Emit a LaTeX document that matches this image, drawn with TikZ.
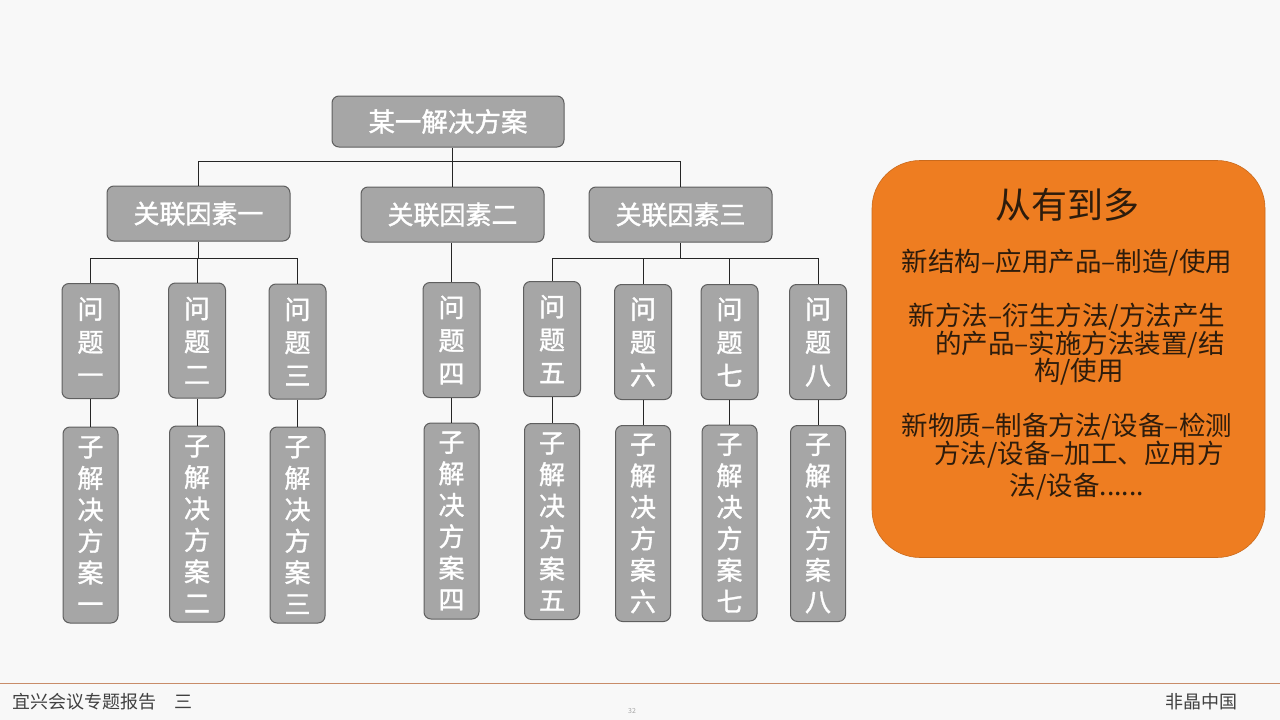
\documentclass[tikz,border=0pt]{standalone}
\usepackage{fontspec}
\setmainfont{Noto Sans CJK SC}
\newfontfamily\boxfont{Noto Sans CJK SC}[FakeBold=1.3]
\usepackage{tikz}
\usetikzlibrary{positioning}
\definecolor{Boxgray}{RGB}{166,166,166}
\definecolor{Edgegray}{RGB}{95,95,95}
\definecolor{Orangebox}{RGB}{238,125,33}
\definecolor{Inktext}{RGB}{45,28,12}
\definecolor{Footline}{RGB}{200,140,105}
\definecolor{Pageback}{RGB}{248,248,248}

\begin{document}
\begin{tikzpicture}[x=1pt,y=-1pt,
  gbox/.style={draw=Edgegray,fill=Boxgray,line width=1pt,rounded corners=7pt,text=white,inner sep=0pt},
  factor/.style={gbox,minimum width=183pt,minimum height=55pt,font=\boxfont\fontsize{26}{30}\selectfont},
  question/.style={gbox,minimum width=57pt,minimum height=115pt,align=center,font=\boxfont\fontsize{26}{33}\selectfont},
  subsol/.style={gbox,minimum width=55pt,minimum height=196pt,align=center,font=\boxfont\fontsize{26}{31.5}\selectfont},
  link/.style={draw=black!85,line width=0.8pt},
  ink/.style={text=Inktext,inner sep=0pt,font=\fontsize{26.5}{30}\selectfont},
  foot/.style={text=black!75,inner sep=0pt,font=\fontsize{18}{20}\selectfont}]
\useasboundingbox (0,0) rectangle (1280,720);
\fill[Pageback] (0,0) rectangle (1280,720);
%
% tree
\node[gbox,minimum width=232pt,minimum height=51pt,font=\boxfont\fontsize{26.5}{30}\selectfont] (root) at (448,121.5) {某一解决方案};
\node[factor] (f1) at (198.5,213.5) {关联因素一};
\node[factor] (f2) at (452.5,214.5) {关联因素二};
\node[factor] (f3) at (680.5,214.5) {关联因素三};
\coordinate (topbar) at (0,161);
\coordinate (midbar) at (0,258);
%
\node[question] (q1) at (90.5,341) {问\\题\\一};
\node[question] (q2) at (197,340.5) {问\\题\\二};
\node[question] (q3) at (297.5,341.5) {问\\题\\三};
\node[question] (q4) at (451.5,340) {问\\题\\四};
\node[question] (q5) at (552,339) {问\\题\\五};
\node[question] (q6) at (643,342) {问\\题\\六};
\node[question] (q7) at (729.5,342) {问\\题\\七};
\node[question] (q8) at (818,342) {问\\题\\八};
%
\node[subsol] (s1) at (90.5,525) {子\\解\\决\\方\\案\\一};
\node[subsol] (s2) at (197,524) {子\\解\\决\\方\\案\\二};
\node[subsol] (s3) at (297.5,525) {子\\解\\决\\方\\案\\三};
\node[subsol] (s4) at (451.5,521) {子\\解\\决\\方\\案\\四};
\node[subsol] (s5) at (552,521.5) {子\\解\\决\\方\\案\\五};
\node[subsol] (s6) at (643,523.5) {子\\解\\决\\方\\案\\六};
\node[subsol] (s7) at (729.5,523) {子\\解\\决\\方\\案\\七};
\node[subsol] (s8) at (818,523.5) {子\\解\\决\\方\\案\\八};
%
\draw[link] (root.south -| f2.north) -- (f2.north);
\draw[link] (f1.north) |- (f3.north |- topbar) -- (f3.north);
\draw[link] (f1.south) -- (f1.south |- midbar);
\draw[link] (q1.north) |- (q3.north |- midbar) -- (q3.north);
\draw[link] (q2.north) -- (q2.north |- midbar);
\draw[link] (f2.south -| q4.north) -- (q4.north);
\draw[link] (f3.south) -- (f3.south |- midbar);
\draw[link] (q5.north) |- (q8.north |- midbar) -- (q8.north);
\draw[link] (q6.north) -- (q6.north |- midbar);
\draw[link] (q7.north) -- (q7.north |- midbar);
\foreach \i in {1,...,8}
  \draw[link] (q\i.south) -- (s\i.north);
%
% idea panel
\node[fill=Orangebox,draw=Orangebox!85!black,line width=0.6pt,rounded corners=48pt,minimum width=393pt,minimum height=397pt] (panel) at (1068.5,359) {};
\node[ink,font=\fontsize{36}{40}\selectfont] (title) at (1067,205) {从有到多};
\node[ink] (l1) at (1067,263) {新结构–应用产品–制造/使用};
\node[ink] (l2) at (1067,317) {新方法–衍生方法/方法产生};
\node[ink] (l3) at (1080,345) {的产品–实施方法装置/结};
\node[ink] (l4) at (1079,372) {构/使用};
\node[ink] (l5) at (1067,427) {新物质–制备方法/设备–检测};
\node[ink] (l6) at (1079,455) {方法/设备–加工、应用方};
\node[ink] (l7) at (1077,487) {法/设备......};
%
% footer
\draw[Footline,line width=1pt] (0,683) -- (1280,683);
\node[foot,anchor=west] (event) at (12,702) {宜兴会议专题报告\quad 三};
\node[foot,anchor=east] (brand) at (1238,702) {非晶中国};
\node[text=black!35,inner sep=0pt,font=\fontsize{7}{8}\selectfont] (pageno) at (632,711) {32};
\end{tikzpicture}
\end{document}
